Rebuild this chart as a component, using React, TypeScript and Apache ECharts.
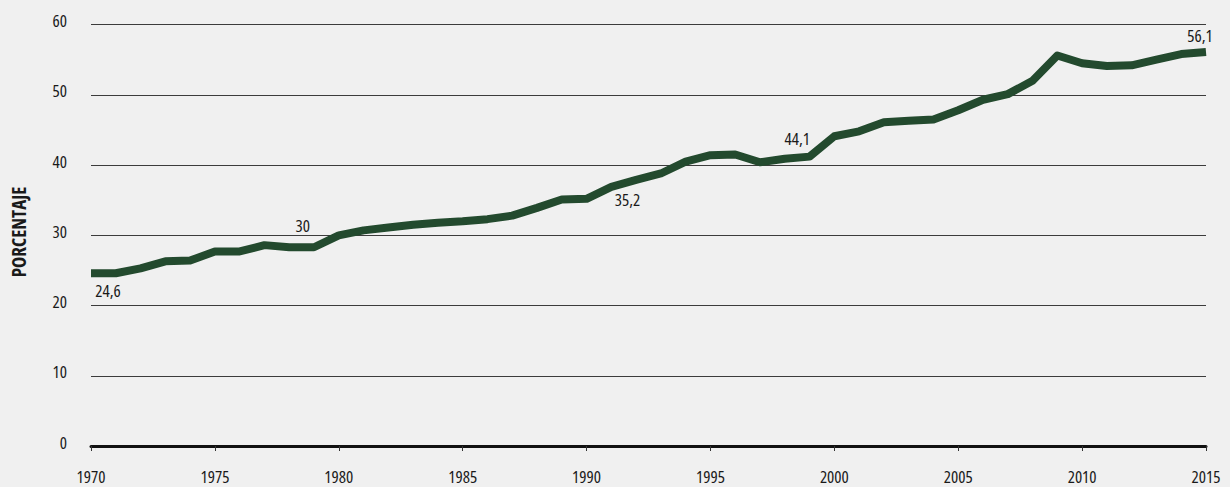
import React, { useEffect, useRef } from "react";
import * as echarts from "echarts";

const years = [
  1970, 1971, 1972, 1973, 1974, 1975, 1976, 1977, 1978, 1979,
  1980, 1981, 1982, 1983, 1984, 1985, 1986, 1987, 1988, 1989,
  1990, 1991, 1992, 1993, 1994, 1995, 1996, 1997, 1998, 1999,
  2000, 2001, 2002, 2003, 2004, 2005, 2006, 2007, 2008, 2009,
  2010, 2011, 2012, 2013, 2014, 2015,
];
const values = [
  24.6, 24.6, 25.3, 26.3, 26.4, 27.7, 27.7, 28.6, 28.3, 28.3,
  30.0, 30.7, 31.1, 31.5, 31.8, 32.0, 32.3, 32.8, 33.9, 35.1,
  35.2, 36.9, 37.9, 38.8, 40.5, 41.4, 41.5, 40.4, 40.9, 41.2,
  44.1, 44.8, 46.1, 46.3, 46.5, 47.8, 49.3, 50.1, 52.0, 55.6,
  54.5, 54.1, 54.2, 55.0, 55.8, 56.1,
];
const labelYears = [1970, 1980, 1990, 2000, 2015];
const labelTexts = ["24,6", "30", "35,2", "44,1", "56,1"];
const labelOffsets: [number, number][] = [
  [17, 17],
  [-36, -10],
  [41, 1],
  [-37, 2],
  [-6, -16],
];
const yTicks = [0, 10, 20, 30, 40, 50, 60];
const yAxisTitle = "PORCENTAJE";

const FONT = "'Open Sans', 'Noto Sans', sans-serif";
// condensed width of the variable Open Sans, written into the SVG style attribute
const FONT_COND = "'Open Sans', sans-serif; font-stretch: condensed; font-weight: 500";
const TEXT = "#1a1a1a";

export default function App() {
  const ref = useRef<HTMLDivElement>(null);
  useEffect(() => {
    if (!ref.current) return;
    const chart = echarts.init(ref.current, null, { renderer: "svg" });
    const lineData = years.map((y, i) => [y, values[i]]);
    const labelData = labelYears.map((y, i) => ({
      value: [y, values[years.indexOf(y)]],
      label: {
        show: true,
        position: "inside",
        offset: labelOffsets[i],
        formatter: labelTexts[i],
      },
    }));
    chart.setOption({
      animation: false,
      backgroundColor: "#f0f0f0",
      grid: { left: 91, right: 24, top: 24.6, bottom: 41, containLabel: false },
      xAxis: {
        type: "value",
        min: 1970,
        max: 2015,
        interval: 5,
        axisLine: { show: true, onZero: false, lineStyle: { color: "#111", width: 3 } },
        axisTick: { show: true, length: 5, lineStyle: { color: "#333", width: 1 } },
        splitLine: { show: false },
        axisLabel: {
          margin: 25,
          color: TEXT,
          fontSize: 17,
          fontFamily: FONT_COND,
          hideOverlap: false,
          showMinLabel: true,
          showMaxLabel: true,
          formatter: (v: number) => String(v),
        },
      },
      yAxis: {
        type: "value",
        min: yTicks[0],
        max: yTicks[yTicks.length - 1],
        interval: 10,
        axisLine: { show: false },
        axisTick: { show: false },
        splitLine: {
          show: true,
          lineStyle: { color: "#3c3c3c", width: 1 },
          showMinLine: false,
        },
        axisLabel: {
          margin: 24,
          color: TEXT,
          fontSize: 17,
          fontFamily: FONT_COND,
          verticalAlign: "bottom",
          lineHeight: 8,
        },
      },
      graphic: [
        {
          type: "text",
          x: 19,
          y: 232,
          rotation: Math.PI / 2,
          style: {
            text: yAxisTitle,
            fill: TEXT,
            font: `normal bold condensed 19px ${FONT}`,
            textAlign: "center",
            textVerticalAlign: "middle",
          },
        },
      ],
      series: [
        {
          type: "line",
          data: lineData,
          showSymbol: false,
          symbol: "none",
          lineStyle: { color: "#234a2e", width: 8, cap: "butt", join: "round" },
          z: 3,
        },
        {
          type: "scatter",
          data: labelData,
          symbolSize: 1,
          itemStyle: { color: "rgba(0,0,0,0)", opacity: 1 },
          label: {
            color: TEXT,
            fontSize: 17,
            fontFamily: FONT_COND,
          },
          z: 4,
        },
      ],
    });
    return () => chart.dispose();
  }, []);
  return (
    <div
      ref={ref}
      style={{ position: "absolute", left: 0, top: 0, width: 1230, height: 487 }}
    />
  );
}
